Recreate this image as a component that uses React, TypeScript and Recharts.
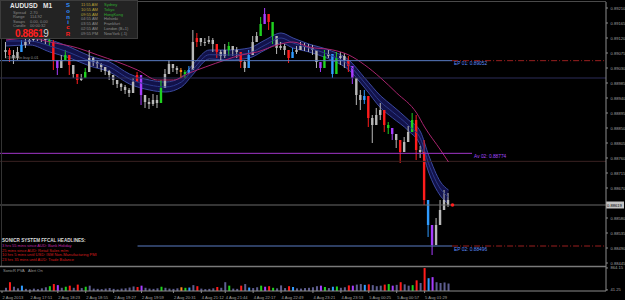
import React from "react";
import {
  ComposedChart,
  Bar,
  Line,
  Area,
  XAxis,
  YAxis,
  ReferenceLine,
  ReferenceDot,
} from "recharts";

// 1-minute AUDUSD bars (one entry per candle)
const firstOpen = 0.89078;
const closes = [
  0.89084, 0.89069, 0.8906, 0.89078, 0.89099, 0.89108, 0.89114, 0.8912, 0.89123, 0.8912,
  0.89114, 0.89108, 0.89054, 0.8903, 0.89054, 0.89069, 0.89039, 0.89012, 0.88994, 0.89,
  0.89018, 0.8906, 0.89048, 0.89042, 0.89033, 0.89021, 0.89009, 0.88994, 0.88982, 0.88973,
  0.88964, 0.88955, 0.88988, 0.89009, 0.88949, 0.88928, 0.88922, 0.88934, 0.88925, 0.8897,
  0.89012, 0.89042, 0.8903, 0.89024, 0.89018, 0.89012, 0.89024, 0.89108, 0.8912, 0.89108,
  0.89108, 0.89114, 0.89102, 0.89078, 0.89066, 0.89084, 0.89096, 0.89084, 0.89078, 0.89048,
  0.8903, 0.89069, 0.89108, 0.89126, 0.89162, 0.89192, 0.89168, 0.89126, 0.8909, 0.89096,
  0.89084, 0.8906, 0.89078, 0.89084, 0.89096, 0.89093, 0.8909, 0.89084, 0.89048, 0.8903,
  0.89066, 0.89072, 0.89012, 0.8906, 0.89066, 0.89054, 0.89036, 0.89, 0.88949, 0.88934,
  0.88946, 0.8888, 0.88859, 0.88889, 0.88904, 0.88859, 0.8885, 0.88832, 0.88814, 0.88778,
  0.88808, 0.88838, 0.88874, 0.88784, 0.88778, 0.88634, 0.88559, 0.88499, 0.88559, 0.88604,
  0.88634, 0.88619,
];
const highs = [
  0.89108, 0.8909, 0.89084, 0.89093, 0.89114, 0.8912, 0.89126, 0.89132, 0.89135, 0.89132,
  0.89126, 0.89123, 0.89114, 0.89045, 0.89069, 0.89084, 0.89054, 0.89024, 0.89006, 0.89012,
  0.8903, 0.89084, 0.89063, 0.89054, 0.89045, 0.89033, 0.89024, 0.89006, 0.88994, 0.88985,
  0.88979, 0.8897, 0.89, 0.89018, 0.88979, 0.88943, 0.8894, 0.88952, 0.88949, 0.88994,
  0.89027, 0.89054, 0.89042, 0.89036, 0.8903, 0.89024, 0.89036, 0.89144, 0.89135, 0.8912,
  0.8912, 0.89126, 0.8912, 0.89096, 0.89084, 0.89102, 0.89108, 0.89096, 0.89093, 0.89066,
  0.89054, 0.89084, 0.89126, 0.89138, 0.89183, 0.8921, 0.8918, 0.89156, 0.89114, 0.89108,
  0.89102, 0.89078, 0.8909, 0.89096, 0.89108, 0.89105, 0.89102, 0.89099, 0.89072, 0.89048,
  0.89084, 0.89084, 0.8903, 0.89078, 0.89078, 0.89075, 0.89066, 0.89024, 0.88979, 0.88964,
  0.88964, 0.88904, 0.88889, 0.8891, 0.88925, 0.8888, 0.88868, 0.8885, 0.88826, 0.88814,
  0.88823, 0.88856, 0.88895, 0.88889, 0.88796, 0.88814, 0.88628, 0.88529, 0.8858, 0.88634,
  0.88664, 0.88655,
];
const lows = [
  0.8906, 0.89048, 0.89042, 0.89054, 0.89078, 0.8909, 0.89102, 0.89108, 0.89111, 0.89108,
  0.89102, 0.89096, 0.89024, 0.89009, 0.89039, 0.8906, 0.89009, 0.89, 0.88982, 0.88991,
  0.89, 0.89039, 0.89036, 0.8903, 0.89018, 0.89009, 0.88994, 0.88979, 0.8897, 0.88961,
  0.88952, 0.88943, 0.88964, 0.89, 0.88919, 0.8891, 0.88907, 0.88916, 0.8891, 0.88934,
  0.89, 0.8903, 0.89018, 0.89012, 0.89, 0.89, 0.89012, 0.89084, 0.89093, 0.89096,
  0.89096, 0.89102, 0.89078, 0.8906, 0.89054, 0.8906, 0.89066, 0.89066, 0.8906, 0.8903,
  0.89018, 0.89048, 0.8909, 0.89108, 0.89135, 0.89174, 0.89144, 0.89102, 0.89072, 0.89084,
  0.89069, 0.89045, 0.89066, 0.89072, 0.89084, 0.89081, 0.89078, 0.89069, 0.8903, 0.89018,
  0.89045, 0.8906, 0.89, 0.89042, 0.89039, 0.8903, 0.89018, 0.88982, 0.88919, 0.88904,
  0.88922, 0.88853, 0.88805, 0.88868, 0.88874, 0.88838, 0.88832, 0.88814, 0.8879, 0.88745,
  0.88784, 0.8882, 0.88856, 0.88754, 0.8876, 0.88619, 0.88523, 0.88469, 0.88538, 0.88574,
  0.88613, 0.88613,
];
// PVA colour of each bar: g grey, r red, n green, p purple, b blue, o orange
const tones =
  "grggbggggg" + "gnrpgnrgrg" + "nggggggggg" + "gggrpggggn" + "ggggonbgrg" +
  "gggrggnggr" + "gbggnprngg" + "grbggggggp" + "ngbnggrpgg" + "brgggrnpgr" +
  "ggnrgrbpgg" + "gg";
const volumes = [
  120, 330, 160, 100, 200, 80, 60, 90, 70, 100, 140, 180,
  260, 220, 120, 160, 200, 120, 240, 110, 160, 200, 90, 80,
  70, 90, 110, 80, 60, 90, 100, 130, 170, 150, 200, 120,
  90, 80, 100, 160, 120, 90, 80, 100, 140, 120, 130, 220,
  180, 90, 70, 80, 100, 150, 120, 330, 200, 90, 80, 200,
  260, 130, 110, 140, 200, 160, 180, 120, 100, 210, 110, 180,
  150, 100, 90, 110, 120, 140, 180, 200, 150, 110, 160, 170,
  120, 140, 210, 200, 240, 260, 230, 250, 220, 180, 200, 240,
  260, 200, 230, 330, 250, 200, 220, 400, 300, 860, 480, 520,
  330, 300, 320, 280,
];

// dragon ribbon (EMA high / close / low), sampled at bar numbers
const bandSlots = [1, 7, 12, 17, 22, 27, 32, 37, 41, 45, 48, 52, 57, 62, 66, 70, 73, 77, 82, 87, 91, 95, 98, 102, 105, 107, 110, 112];
const bandHigh = [
  0.89126, 0.89123, 0.89114, 0.89093, 0.89066, 0.89048, 0.89012, 0.88994, 0.88988, 0.89003,
  0.89042, 0.89084, 0.89084, 0.8909, 0.89114, 0.89135, 0.8912, 0.89102, 0.89084, 0.89054,
  0.89, 0.88946, 0.88916, 0.88874, 0.88838, 0.88769, 0.88688, 0.88664,
];
const bandMid = [
  0.89111, 0.89111, 0.89096, 0.89076, 0.89051, 0.89033, 0.88997, 0.88979, 0.88973, 0.88988,
  0.89027, 0.8907, 0.89069, 0.89075, 0.89099, 0.8912, 0.89105, 0.8909, 0.8907, 0.89039,
  0.88985, 0.88928, 0.88898, 0.88857, 0.88817, 0.88743, 0.88667, 0.88643,
];
const bandLow = [
  0.89096, 0.89099, 0.89078, 0.8906, 0.89036, 0.89018, 0.88982, 0.88964, 0.88958, 0.88973,
  0.89012, 0.89057, 0.89054, 0.8906, 0.89084, 0.89105, 0.8909, 0.89078, 0.89057, 0.89024,
  0.8897, 0.8891, 0.8888, 0.88841, 0.88796, 0.88718, 0.88646, 0.88622,
];
// slow MA (magenta)
const slowSlots = [1, 7, 12, 19, 24, 29, 34, 39, 43, 47, 51, 56, 60, 64, 69, 73, 77, 83, 87, 91, 95, 99, 104, 106, 110, 112];
const slowMa = [
  0.89114, 0.8912, 0.89108, 0.8909, 0.89069, 0.89048, 0.89024, 0.88994, 0.88994, 0.89015,
  0.89033, 0.89054, 0.89069, 0.89078, 0.89099, 0.89108, 0.89093, 0.89084, 0.89069, 0.89039,
  0.89, 0.88955, 0.88895, 0.88853, 0.88784, 0.88748,
];

const entryLevels = [0.89052, 0.88496];
const averageLevel = 0.88774;
const roundLevels = [0.89, 0.8875];

const priceTicks = [
  0.8921, 0.89165, 0.8912, 0.89075, 0.8903, 0.88985, 0.8894, 0.88895, 0.8885,
  0.88805, 0.8876, 0.88715, 0.8867, 0.8858, 0.88535, 0.8849, 0.88445,
];
const volTicks = [41.25, 864.15];
const timeSlots = [0, 7, 14, 21, 28, 35, 43, 50, 56, 63, 70, 78, 85, 92, 99, 106];
const timeLabels = [
  "2 Aug 2013", "2 Aug 17:51", "2 Aug 18:23", "2 Aug 18:55", "2 Aug 19:27", "2 Aug 19:59",
  "2 Aug 20:31", "4 Aug 21:12", "4 Aug 21:44", "4 Aug 22:17", "4 Aug 22:49", "4 Aug 23:21",
  "4 Aug 23:53", "5 Aug 00:25", "5 Aug 00:57", "5 Aug 01:29",
];

const headlines = [
  "3 hrs 55 mins since AUD: Bank Holiday",
  "25 mins since AUD: Retail Sales m/m",
  "10 hrs 5 mins until USD: ISM Non-Manufacturing PMI",
  "23 hrs 35 mins until AUD: Trade Balance",
];
const clockTimes = ["11:55 AM", "10:55 AM", "09:55 AM", "04:55 AM", "03:55 AM", "02:55 AM", "09:55 PM"];
const clockCities = ["Sydney", "Tokyo", "HongKong", "Helsinki", "Frankfurt", "London (B+1)", "NewYork (-1)"];

const SLOTS = 152;
const X_DOMAIN: [number, number] = [-0.5, SLOTS - 0.5];
const PRICE_DOMAIN: [number, number] = [0.88433, 0.89228];
const FONT = "'Liberation Sans', Arial, sans-serif";
const AXIS_FONT = 4.1;

const TONE: Record<string, string> = {
  g: "#b8b8b8",
  r: "#ff1c1c",
  n: "#1fd21f",
  p: "#a73cff",
  b: "#2f9bff",
  o: "#ff8a1c",
};
const VOL_TONE: Record<string, string> = { ...TONE, g: "#5e5e90" };

const candles = closes.map((close, i) => {
  const open = i === 0 ? firstOpen : closes[i - 1];
  const high = Math.max(highs[i], open, close);
  const low = Math.min(lows[i], open, close);
  return { slot: i + 1, open, close, high, low, range: [low, high], tone: tones[i], vol: volumes[i] };
});
const band = bandSlots.map((slot, i) => ({
  slot,
  band: [bandLow[i], bandHigh[i]],
  mid: bandMid[i],
}));
const slow = slowSlots.map((slot, i) => ({ slot, ma: slowMa[i] }));
const last = candles[candles.length - 1];
const segEnd = last.slot + 0.9;

function Candle(props: any) {
  const { x, y, width, height, payload } = props;
  if (!payload || !(height > 0)) return null;
  const k = height / (payload.high - payload.low);
  const yo = y + (payload.high - payload.open) * k;
  const yc = y + (payload.high - payload.close) * k;
  const cx = x + width / 2;
  const c = TONE[payload.tone];
  const top = Math.min(yo, yc);
  return (
    <g>
      <line x1={cx} x2={cx} y1={y} y2={y + height} stroke={c} strokeWidth={1} />
      <rect x={cx - 1.2} y={top} width={2.4} height={Math.max(Math.abs(yc - yo), 1)} fill={c} />
    </g>
  );
}

function VolBar(props: any) {
  const { x, y, width, height, payload } = props;
  if (!payload || !(height > 0)) return null;
  return <rect x={x + width / 2 - 1} y={y} width={2} height={height} fill={VOL_TONE[payload.tone]} />;
}

function PriceTick(props: any) {
  const { x, y, payload } = props;
  return (
    <text x={x + 0.5} y={y + 1.5} fontSize={AXIS_FONT} fill="#a0a0a0" fontFamily={FONT} textAnchor="start">
      {payload.value.toFixed(5)}
    </text>
  );
}

function VolTick(props: any) {
  const { x, y, payload } = props;
  return (
    <text x={x + 0.5} y={y + 1.5} fontSize={AXIS_FONT} fill="#a0a0a0" fontFamily={FONT} textAnchor="start">
      {payload.value.toFixed(2)}
    </text>
  );
}

function TimeTick(props: any) {
  const { x, y, payload } = props;
  const label = timeLabels[timeSlots.indexOf(payload.value)];
  return (
    <text x={x + 0.5} y={y + 4} fontSize={AXIS_FONT} fill="#a0a0a0" fontFamily={FONT} textAnchor="start">
      {label}
    </text>
  );
}

const levelLabel = (text: string, color: string, left?: string) => (p: any) => {
  const vb = p.viewBox;
  return (
    <g fontFamily={FONT} fontSize={4.8}>
      <text x={vb.x + vb.width + 2} y={vb.y + 4.5} fill={color}>
        {text}
      </text>
      {left && (
        <text x={vb.x + 5} y={vb.y - 1.5} fill="#8c8c8c" fontSize={4}>
          {left}
        </text>
      )}
    </g>
  );
};

const priceBox = (p: any) => {
  const vb = p.viewBox;
  const x = vb.x + vb.width;
  return (
    <g>
      <rect x={x} y={vb.y - 3.5} width={18} height={7} fill="#c4c4c4" />
      <text x={x + 1} y={vb.y + 1.5} fontSize={AXIS_FONT} fill="#000" fontFamily={FONT}>
        {last.close.toFixed(5)}
      </text>
    </g>
  );
};

function PriceChart() {
  return (
    <ComposedChart width={625} height={267} data={candles} margin={{ top: 2, right: 0, bottom: 0, left: 0 }}>
      <XAxis dataKey="slot" type="number" domain={X_DOMAIN} allowDataOverflow hide />
      <YAxis
        orientation="right"
        type="number"
        width={19}
        domain={PRICE_DOMAIN}
        allowDataOverflow
        ticks={priceTicks}
        interval={0}
        tick={<PriceTick />}
        tickSize={2}
        tickLine={{ stroke: "#8c8c8c" }}
        axisLine={{ stroke: "#8c8c8c" }}
      />
      {roundLevels.map((v, i) => (
        <ReferenceLine key={v} y={v} stroke={i === 0 ? "#2c2c58" : "#3a2222"} strokeWidth={1} />
      ))}
      <Area
        data={band}
        dataKey="band"
        type="monotone"
        fill="#12124a"
        fillOpacity={1}
        stroke="#3b4a9e"
        strokeWidth={1}
        isAnimationActive={false}
      />
      <Line data={band} dataKey="mid" type="monotone" stroke="#2c3a8a" strokeWidth={1} dot={false} isAnimationActive={false} />
      <Line data={slow} dataKey="ma" type="monotone" stroke="#a8246e" strokeWidth={1} dot={false} isAnimationActive={false} />
      <ReferenceLine
        segment={[{ x: X_DOMAIN[0], y: entryLevels[0] }, { x: segEnd, y: entryLevels[0] }]}
        stroke="#5a7cc4"
        strokeWidth={1}
        label={levelLabel(`EP 01: ${entryLevels[0].toFixed(5)}`, "#5f8fff", "#5963 Sn buy 0.01")}
      />
      <ReferenceLine
        segment={[{ x: 34, y: entryLevels[1] }, { x: segEnd, y: entryLevels[1] }]}
        stroke="#5a7cc4"
        strokeWidth={1}
        label={levelLabel(`EP 02: ${entryLevels[1].toFixed(5)}`, "#5f8fff")}
      />
      {entryLevels.map((v) => (
        <ReferenceLine
          key={"dd" + v}
          segment={[{ x: segEnd, y: v }, { x: X_DOMAIN[1], y: v }]}
          stroke="#9a1f1f"
          strokeDasharray="6 2 1 2"
          strokeWidth={1}
        />
      ))}
      <ReferenceLine
        segment={[{ x: X_DOMAIN[0], y: averageLevel }, { x: segEnd + 5, y: averageLevel }]}
        stroke="#a136c8"
        strokeWidth={1}
        label={levelLabel(`Av 02: ${averageLevel.toFixed(5)}`, "#a548ff")}
      />
      <ReferenceLine y={last.close} stroke="#6a6a6a" strokeWidth={1} label={priceBox} />
      <Bar dataKey="range" barSize={3} shape={Candle} isAnimationActive={false} />
      <ReferenceDot x={last.slot + 1} y={last.close} r={1.8} fill="#ff2020" stroke="none" />
    </ComposedChart>
  );
}

function VolumeChart() {
  return (
    <ComposedChart width={625} height={34} data={candles} margin={{ top: 1, right: 0, bottom: 0, left: 0 }}>
      <XAxis
        dataKey="slot"
        type="number"
        domain={X_DOMAIN}
        allowDataOverflow
        ticks={timeSlots}
        interval={0}
        tick={<TimeTick />}
        tickSize={2}
        tickLine={{ stroke: "#8c8c8c" }}
        axisLine={{ stroke: "#8c8c8c" }}
        height={9}
      />
      <YAxis
        orientation="right"
        type="number"
        width={19}
        domain={[0, 900]}
        allowDataOverflow
        ticks={volTicks}
        interval={0}
        tick={<VolTick />}
        tickSize={2}
        tickLine={{ stroke: "#8c8c8c" }}
        axisLine={{ stroke: "#8c8c8c" }}
      />
      <Bar dataKey="vol" barSize={2} shape={VolBar} isAnimationActive={false} />
    </ComposedChart>
  );
}

function Overlay() {
  const sonic = [
    ["S", "#2f8fff", 7],
    ["o", "#2f8fff", 12.5],
    ["n", "#2f8fff", 18.5],
    ["i", "#2f8fff", 23.5],
    ["c", "#ff2020", 29],
    ["R", "#ff2020", 36],
  ] as const;
  return (
    <svg width={625} height={300} style={{ position: "absolute", left: 0, top: 0, pointerEvents: "none" }} fontFamily={FONT}>
      <line x1={0} x2={606} y1={1.5} y2={1.5} stroke="#4a4a4a" />
      <line x1={1.5} x2={1.5} y1={0} y2={266} stroke="#333" />
      <line x1={0} x2={606} y1={266.5} y2={266.5} stroke="#7a7a7a" strokeWidth={1.5} />

      <rect x={0.5} y={0.5} width={137} height={38} fill="#232323" stroke="#3c3c3c" />
      <text x={10} y={8} fontSize={6.5} fontWeight="bold" fill="#e6e6e6">AUDUSD</text>
      <text x={43} y={8} fontSize={6.5} fontWeight="bold" fill="#e6e6e6">M1</text>
      {[["Spread", "2.70"], ["Range", "114.92"], ["Swaps", "0.00, 0.00"], ["Candle", "00:00:32"]].map(([k, v], i) => (
        <g key={k} fontSize={4} fill="#8a8a8a">
          <text x={13} y={13.8 + i * 4.35}>{k}</text>
          <text x={30} y={13.8 + i * 4.35}>{v}</text>
        </g>
      ))}
      <text x={15} y={37} fontSize={10} fontWeight="bold" fill="#ff2020" letterSpacing={-0.4}>
        {last.close.toFixed(5).slice(0, 6)}
        <tspan fill="#d8d8d8" fontWeight="normal">{last.close.toFixed(5).slice(6)}</tspan>
      </text>
      {sonic.map(([ch, col, y]) => (
        <text key={ch} x={68} y={y} fontSize={6} fontWeight="bold" fill={col} textAnchor="middle">{ch}</text>
      ))}
      {clockTimes.map((t, i) => (
        <g key={t + i} fontSize={4}>
          <text x={81} y={6.2 + i * 4.75} fill={i < 3 ? "#b8a236" : "#8c8c8c"}>{t}</text>
          <text x={104} y={6.2 + i * 4.75} fill={i < 3 ? "#2fa82f" : "#8c8c8c"}>{clockCities[i]}</text>
        </g>
      ))}

      <text x={2} y={242} fontSize={4.6} fontWeight="bold" fill="#dcdcdc">SONICR SYSTEM  FFCAL HEADLINES:</text>
      {headlines.map((h, i) => (
        <text key={h} x={2} y={247 + i * 4.55} fontSize={4} fill={i === 0 ? "#c02aa8" : "#d81e1e"}>{h}</text>
      ))}
      <text x={3} y={272} fontSize={4} fill="#9a9a9a">SonicR PVA</text>
      <text x={28} y={272} fontSize={4} fill="#9a9a9a">Alert On</text>
    </svg>
  );
}

export default function App() {
  return (
    <div style={{ position: "absolute", left: 0, top: 0, width: 625, height: 300, background: "#000", overflow: "hidden" }}>
      <div style={{ position: "absolute", left: 0, top: 0 }}>
        <PriceChart />
      </div>
      <div style={{ position: "absolute", left: 0, top: 266 }}>
        <VolumeChart />
      </div>
      <Overlay />
    </div>
  );
}
